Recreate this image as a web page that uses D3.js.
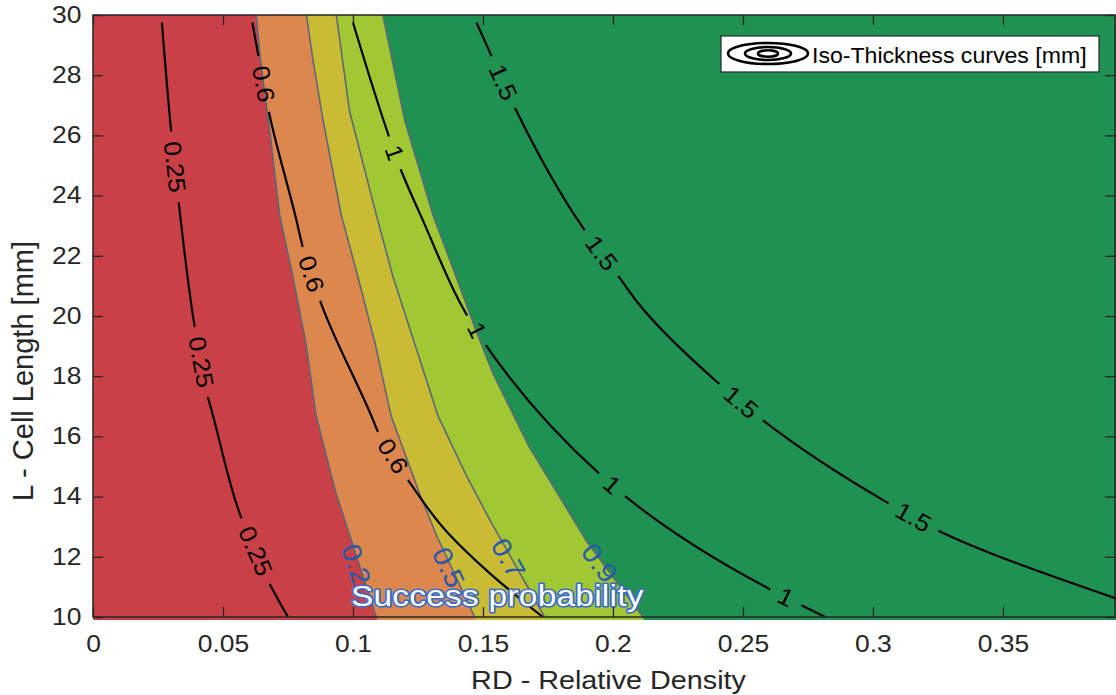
<!DOCTYPE html>
<html>
<head>
<meta charset="utf-8">
<script src="https://cdn.jsdelivr.net/npm/d3@7"></script>
<style>
  html, body { margin: 0; padding: 0; background: #ffffff; }
  svg { display: block; }
</style>
</head>
<body>
<svg id="chart" width="1116" height="695"></svg>
<script>
// ---- Axis limits and ticks ----
const rdDomain = [0, 0.3935];
const lengthDomain = [10, 30];
const rdTicks = [0, 0.05, 0.1, 0.15, 0.2, 0.25, 0.3, 0.35];
const rdTickLabels = ["0", "0.05", "0.1", "0.15", "0.2", "0.25", "0.3", "0.35"];
const lengthTicks = [10, 12, 14, 16, 18, 20, 22, 24, 26, 28, 30];

// ---- Success probability contour boundaries, points as [L, RD] ----
const probLevels = [0.2, 0.5, 0.7, 0.9];
const probBoundary02 = [[30, 0.0628], [28.5, 0.0644], [26, 0.0682], [23.35, 0.0718], [21.3, 0.0769], [19.1, 0.0819], [16.7, 0.0858], [14.1, 0.0935], [12.8, 0.0984], [10, 0.1090]];
const probBoundary05 = [[30, 0.0821], [28.5, 0.0846], [26.5, 0.0885], [23.35, 0.0955], [21.5, 0.1013], [19.1, 0.1085], [16.7, 0.1146], [14.1, 0.1256], [12.7, 0.1322], [10, 0.1468]];
const probBoundary07 = [[30, 0.0936], [26.8, 0.0987], [23.35, 0.1090], [21.3, 0.1154], [18.9, 0.1244], [16.7, 0.1326], [14.7, 0.1436], [13.2, 0.1528], [10, 0.1737]];
const probBoundary09 = [[30, 0.1115], [26.5, 0.1199], [23.35, 0.1308], [21.3, 0.1397], [19.5, 0.1474], [18.1, 0.1538], [15.65, 0.1678], [12.5, 0.1900], [10, 0.2115]];
// band colours: <0.2, 0.2-0.5, 0.5-0.7, 0.7-0.9, >0.9
const bandColors = ["#c94146", "#dc874e", "#c9bc34", "#9fc832", "#1f9253"];
// L at which each level label sits on its boundary
const probLabelAt = [11.75, 11.65, 11.95, 11.8];

// ---- Iso-thickness curves [mm], points as [L, RD] ----
const thicknessLevels = [0.25, 0.6, 1, 1.5];
const iso025 = [[29.75, 0.0265], [26.1, 0.0301], [23.6, 0.0332], [19.65, 0.0391], [17.3, 0.0442], [16.9, 0.0455], [13.3, 0.0570], [11.1, 0.0680], [10, 0.0750]];
const iso06 = [[29.75, 0.0613], [28.6, 0.0637], [26.8, 0.0676], [23.2, 0.0782], [22.25, 0.0808], [20.4, 0.0878], [16.55, 0.1077], [16.15, 0.1096], [14.55, 0.1212], [12.9, 0.1354], [11.5, 0.1520], [10, 0.1730]];
const iso1 = [[29.75, 0.1000], [25.9, 0.1141], [24.95, 0.1180], [23.35, 0.1260], [19.3, 0.1490], [14.75, 0.1949], [14.1, 0.2035], [10.95, 0.2598], [10, 0.2817]];
const iso15 = [[29.75, 0.1475], [28.75, 0.1527], [26.95, 0.1621], [22.9, 0.1887], [21.35, 0.2019], [20.5, 0.2090], [17.85, 0.2395], [16.6, 0.2567], [13.9, 0.3036], [12.95, 0.3232], [10.6, 0.3940]];
// L positions of the inline labels on each curve
const isoLabelAt = [[24.95, 18.47, 12.19], [27.71, 21.4, 15.35], [25.42, 19.53, 14.39, 10.66], [27.77, 22.09, 17.14, 13.32]];

// ---- Layout ----
const W = 1116, H = 695;
const FONT = "'Liberation Sans', Arial, Helvetica, sans-serif";
const INK = "#262626";
const SX = 1.15; // horizontal text stretch
const plot = { x0: 93, x1: 1116, y0: 15, y1: 617 };

const x = d3.scaleLinear().domain(rdDomain).range([plot.x0, plot.x1]);
const y = d3.scaleLinear().domain(lengthDomain).range([plot.y1, plot.y0]);
const toScreen = p => [x(p[1]), y(p[0])];

const svg = d3.select("#chart").attr("font-family", FONT);
const defs = svg.append("defs");
defs.append("clipPath").attr("id", "plotClip").append("rect")
  .attr("x", plot.x0).attr("y", plot.y0)
  .attr("width", plot.x1 - plot.x0).attr("height", plot.y1 - plot.y0 + 3);

// ---- Filled success-probability bands ----
const field = svg.append("g").attr("clip-path", "url(#plotClip)");
field.append("rect")
  .attr("x", plot.x0).attr("y", plot.y0 - 5)
  .attr("width", plot.x1 - plot.x0).attr("height", plot.y1 - plot.y0 + 10)
  .attr("fill", bandColors[4]);

const boundaries = [probBoundary02, probBoundary05, probBoundary07, probBoundary09];
const polyLine = d3.line();
for (let k = boundaries.length - 1; k >= 0; k--) {
  const pts = boundaries[k].map(toScreen);
  const first = pts[0], last = pts[pts.length - 1];
  const poly = [[first[0], first[1] - 6], ...pts, [last[0] + 2, last[1] + 6],
                [x(0) - 6, y(10) + 6], [x(0) - 6, y(30) - 6]];
  field.append("path").attr("d", polyLine(poly) + "Z").attr("fill", bandColors[k]);
}
field.selectAll("path.boundary")
  .data(boundaries)
  .join("path")
  .attr("class", "boundary")
  .attr("d", b => polyLine(b.map(toScreen)))
  .attr("fill", "none")
  .attr("stroke", "#5d6678")
  .attr("stroke-width", 1.6)
  .attr("stroke-linejoin", "round");

// ---- helpers for inline labels ----
function pointOnCurve(points, L) {
  const s = points.map(toScreen);
  for (let i = 0; i < points.length - 1; i++) {
    const a = points[i], b = points[i + 1];
    if ((L <= a[0] && L >= b[0]) || (L >= a[0] && L <= b[0])) {
      const t = (a[0] - L) / (a[0] - b[0]);
      const px = s[i][0] + t * (s[i + 1][0] - s[i][0]);
      const py = s[i][1] + t * (s[i + 1][1] - s[i][1]);
      let ang = Math.atan2(s[i + 1][1] - s[i][1], s[i + 1][0] - s[i][0]) * 180 / Math.PI;
      if (ang > 90) ang -= 180;
      if (ang < -90) ang += 180;
      return { px, py, ang };
    }
  }
  return null;
}

// ---- Success probability level labels ----
const probLabels = svg.append("g").attr("clip-path", "url(#plotClip)");
boundaries.forEach((b, k) => {
  const p = pointOnCurve(b, probLabelAt[k]);
  probLabels.append("text")
    .attr("transform", `translate(${p.px - 3},${p.py}) rotate(${p.ang}) scale(1.1,1)`)
    .attr("text-anchor", "middle")
    .attr("dy", "0.35em")
    .attr("font-size", 27)
    .attr("fill", "#2a58ab")
    .text(String(probLevels[k]));
});

// ---- Iso-thickness curves with gapped inline labels ----
const isoCurves = [iso025, iso06, iso1, iso15];
const isoMask = defs.append("mask").attr("id", "isoGaps")
  .attr("maskUnits", "userSpaceOnUse")
  .attr("x", 0).attr("y", 0).attr("width", W).attr("height", H);
isoMask.append("rect").attr("width", W).attr("height", H).attr("fill", "white");

const isoGroup = svg.append("g").attr("clip-path", "url(#plotClip)");
const isoLines = isoGroup.append("g").attr("mask", "url(#isoGaps)");
const isoText = isoGroup.append("g");
const curveGen = d3.line().curve(d3.curveMonotoneY);

isoCurves.forEach((c, k) => {
  isoLines.append("path")
    .attr("d", curveGen(c.map(toScreen)))
    .attr("fill", "none")
    .attr("stroke", "#000")
    .attr("stroke-width", 2.2);
  isoLabelAt[k].forEach(L => {
    const p = pointOnCurve(c, L);
    const t = isoText.append("text")
      .attr("transform", `translate(${p.px},${p.py}) rotate(${p.ang}) scale(1.1,1)`)
      .attr("text-anchor", "middle")
      .attr("dy", "0.35em")
      .attr("font-size", 24)
      .attr("fill", "#000")
      .text(String(thicknessLevels[k]));
    const w = t.node().getComputedTextLength() * 1.1 + 20;
    isoMask.append("rect")
      .attr("x", -w / 2).attr("y", -12).attr("width", w).attr("height", 24)
      .attr("transform", `translate(${p.px},${p.py}) rotate(${p.ang})`)
      .attr("fill", "black");
  });
});

// ---- "Success probability" caption ----
svg.append("text")
  .attr("transform", `translate(351,606) scale(${SX},1)`)
  .attr("font-size", 29)
  .attr("letter-spacing", 0.25)
  .attr("fill", "#ffffff")
  .attr("stroke", "#3a6cc6")
  .attr("stroke-width", 3.2)
  .attr("paint-order", "stroke")
  .attr("stroke-linejoin", "round")
  .text("Success probability");

// ---- Axes (MATLAB-style box with inward ticks) ----
function styleAxis(g) {
  g.attr("font-family", FONT).attr("font-size", 23);
  g.select(".domain").remove();
  g.selectAll(".tick line").attr("stroke", INK).attr("stroke-width", 1.3);
  g.selectAll(".tick text").attr("fill", INK).attr("transform", `scale(${SX},1)`);
}
svg.append("g").attr("transform", `translate(0,${plot.y1})`)
  .call(d3.axisBottom(x).tickValues(rdTicks).tickFormat((d, i) => rdTickLabels[i])
    .tickSizeInner(-10).tickSizeOuter(0).tickPadding(19))
  .call(styleAxis);
svg.append("g").attr("transform", `translate(0,${plot.y0})`)
  .call(d3.axisTop(x).tickValues(rdTicks).tickFormat("").tickSizeInner(-10).tickSizeOuter(0))
  .call(styleAxis);
svg.append("g").attr("transform", `translate(${plot.x0},0)`)
  .call(d3.axisLeft(y).tickValues(lengthTicks).tickFormat(d3.format("d"))
    .tickSizeInner(-10).tickSizeOuter(0).tickPadding(10))
  .call(styleAxis);
svg.append("g").attr("transform", `translate(${plot.x1 - 1},0)`)
  .call(d3.axisRight(y).tickValues(lengthTicks).tickFormat("").tickSizeInner(-10).tickSizeOuter(0))
  .call(styleAxis);

svg.append("rect")
  .attr("x", plot.x0).attr("y", plot.y0)
  .attr("width", plot.x1 - plot.x0 - 1).attr("height", plot.y1 - plot.y0)
  .attr("fill", "none").attr("stroke", INK).attr("stroke-width", 1.5);

// ---- Axis titles ----
svg.append("text")
  .attr("transform", `translate(${(472 + 745) / 2},689) scale(${SX},1)`)
  .attr("text-anchor", "middle")
  .attr("font-size", 25)
  .attr("fill", INK)
  .text("RD - Relative Density");
svg.append("text")
  .attr("transform", `translate(33,371) rotate(-90)`)
  .attr("text-anchor", "middle")
  .attr("font-size", 29)
  .attr("fill", INK)
  .text("L - Cell Length [mm]");

// ---- Legend ----
const legend = svg.append("g");
legend.append("rect")
  .attr("x", 721).attr("y", 36).attr("width", 378).attr("height", 36)
  .attr("fill", "#ffffff").attr("stroke", INK).attr("stroke-width", 1.2);
[[40, 10.5], [23, 6.5], [10, 3.2]].forEach(([rx, ry]) => {
  legend.append("ellipse")
    .attr("cx", 768).attr("cy", 53.5).attr("rx", rx).attr("ry", ry)
    .attr("fill", "none").attr("stroke", "#000").attr("stroke-width", 2.6);
});
legend.append("text")
  .attr("transform", `translate(812,63) scale(1.05,1)`)
  .attr("font-size", 22)
  .attr("fill", "#000")
  .text("Iso-Thickness curves [mm]");
</script>
</body>
</html>
